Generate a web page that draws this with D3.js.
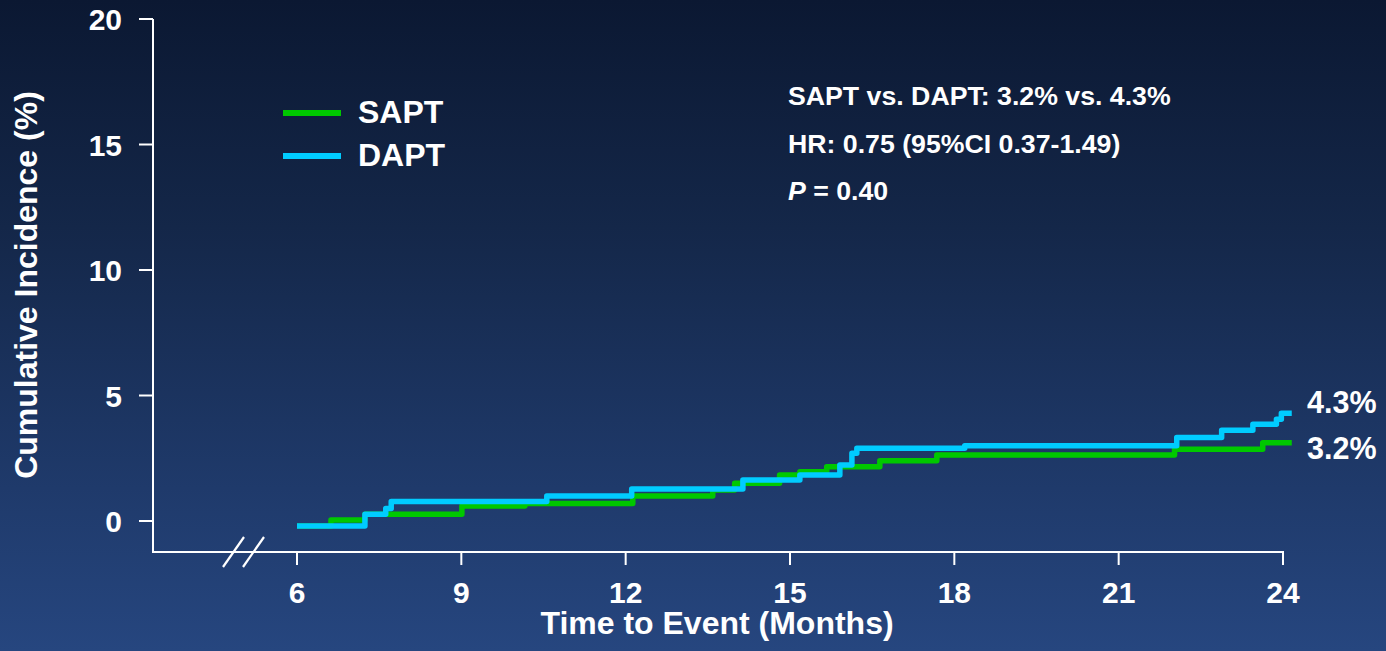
<!DOCTYPE html>
<html>
<head>
<meta charset="utf-8">
<script src="https://cdn.jsdelivr.net/npm/d3@7"></script>
<style>
  html, body { margin:0; padding:0; }
  body { width:1386px; height:651px; overflow:hidden;
         background: linear-gradient(to bottom, #0b1832 0%, #142749 35%, #1f3a6b 75%, #26467f 100%); }
  svg text { font-family: "Liberation Sans", Arial, sans-serif; font-weight:700; fill:#fff; }
</style>
</head>
<body>
<svg id="chart" width="1386" height="651"></svg>
<script>
// tháng / % tích lũy
const sapt = [
  [6.0, -0.2], [6.62, 0.04], [7.24, 0.27], [9.01, 0.6], [10.16, 0.7],
  [12.13, 1.0], [13.59, 1.24], [13.99, 1.5], [14.81, 1.83], [15.18, 1.96],
  [15.67, 2.16], [16.64, 2.4], [17.68, 2.63], [22.02, 2.86], [23.63, 3.12],
  [24.16, 3.12]
];
const dapt = [
  [6.0, -0.2], [7.24, 0.27], [7.62, 0.5], [7.72, 0.78], [10.56, 1.0],
  [12.11, 1.27], [14.14, 1.63], [15.18, 1.83], [15.91, 2.23], [16.13, 2.7],
  [16.22, 2.9], [18.19, 3.0], [22.06, 3.33], [22.88, 3.62], [23.45, 3.85],
  [23.88, 4.05], [23.97, 4.29], [24.16, 4.29]
];
const xTicks = [6, 9, 12, 15, 18, 21, 24];
const yTicks = [0, 5, 10, 15, 20];
const seriesNames = ["SAPT", "DAPT"];
const seriesColors = ["#00c800", "#00ccff"];
const endLabels = ["3.2%", "4.3%"];
const statLines = ["SAPT vs. DAPT: 3.2% vs. 4.3%", "HR: 0.75 (95%CI 0.37-1.49)"];

const svg = d3.select("#chart");
const x = d3.scaleLinear().domain([6, 24]).range([297, 1283]);
const y = d3.scaleLinear().domain([0, 20]).range([521, 19]);
const axisY0 = 153, axisX0 = 552;

// trục y
svg.append("line").attr("x1", axisY0).attr("x2", axisY0).attr("y1", y(20)).attr("y2", axisX0)
  .attr("stroke", "#fff").attr("stroke-width", 2);
svg.selectAll(".ytick").data(yTicks).join("line")
  .attr("x1", axisY0 - 14).attr("x2", axisY0).attr("y1", d => y(d)).attr("y2", d => y(d))
  .attr("stroke", "#fff").attr("stroke-width", 2);
svg.selectAll(".ylab").data(yTicks).join("text")
  .attr("x", 122).attr("y", d => y(d) + 11).attr("text-anchor", "end")
  .style("font-size", "30px").text(d => d);

// trục x
svg.append("line").attr("x1", axisY0 - 1).attr("x2", x(24) + 1).attr("y1", axisX0).attr("y2", axisX0)
  .attr("stroke", "#fff").attr("stroke-width", 2);
svg.selectAll(".xtick").data(xTicks).join("line")
  .attr("x1", d => x(d)).attr("x2", d => x(d)).attr("y1", axisX0).attr("y2", axisX0 + 13)
  .attr("stroke", "#fff").attr("stroke-width", 2);
svg.selectAll(".xlab").data(xTicks).join("text")
  .attr("x", d => x(d)).attr("y", 603).attr("text-anchor", "middle")
  .style("font-size", "30px").text(d => d);

// dấu ngắt trục
[223, 243].forEach(bx => {
  svg.append("line").attr("x1", bx).attr("y1", 567).attr("x2", bx + 21).attr("y2", 537)
    .attr("stroke", "#fff").attr("stroke-width", 2.2);
});

// tiêu đề trục
svg.append("text").attr("x", 717).attr("y", 634).attr("text-anchor", "middle")
  .style("font-size", "32px").text("Time to Event (Months)");
svg.append("text").attr("transform", "translate(37,285) rotate(-90)").attr("text-anchor", "middle")
  .style("font-size", "32px").text("Cumulative Incidence (%)");

// đường KM
const line = d3.line().x(d => x(d[0])).y(d => y(d[1])).curve(d3.curveStepAfter);
[sapt, dapt].forEach((s, i) => {
  svg.append("path").datum(s).attr("d", line)
    .attr("fill", "none").attr("stroke", seriesColors[i]).attr("stroke-width", 5.5)
    .attr("stroke-linejoin", "round");
});

// nhãn cuối đường
[sapt, dapt].forEach((s, i) => {
  const last = s[s.length - 1];
  svg.append("text").attr("x", 1307).attr("y", y(last[1]) + (i === 0 ? 16 : 0))
    .style("font-size", "30.5px").text(endLabels[i]);
});

// chú giải
seriesNames.forEach((n, i) => {
  const ly = 113 + i * 43;
  svg.append("line").attr("x1", 283).attr("x2", 341).attr("y1", ly).attr("y2", ly)
    .attr("stroke", seriesColors[i]).attr("stroke-width", 6);
  svg.append("text").attr("x", 358).attr("y", ly + 10).style("font-size", "32px").text(n);
});

// thống kê
statLines.forEach((t, i) => {
  svg.append("text").attr("x", 788).attr("y", 105 + i * 48).style("font-size", "26.7px").text(t);
});
const p = svg.append("text").attr("x", 788).attr("y", 200).style("font-size", "26.7px");
p.append("tspan").style("font-style", "italic").text("P");
p.append("tspan").text(" = 0.40");
</script>
</body>
</html>
